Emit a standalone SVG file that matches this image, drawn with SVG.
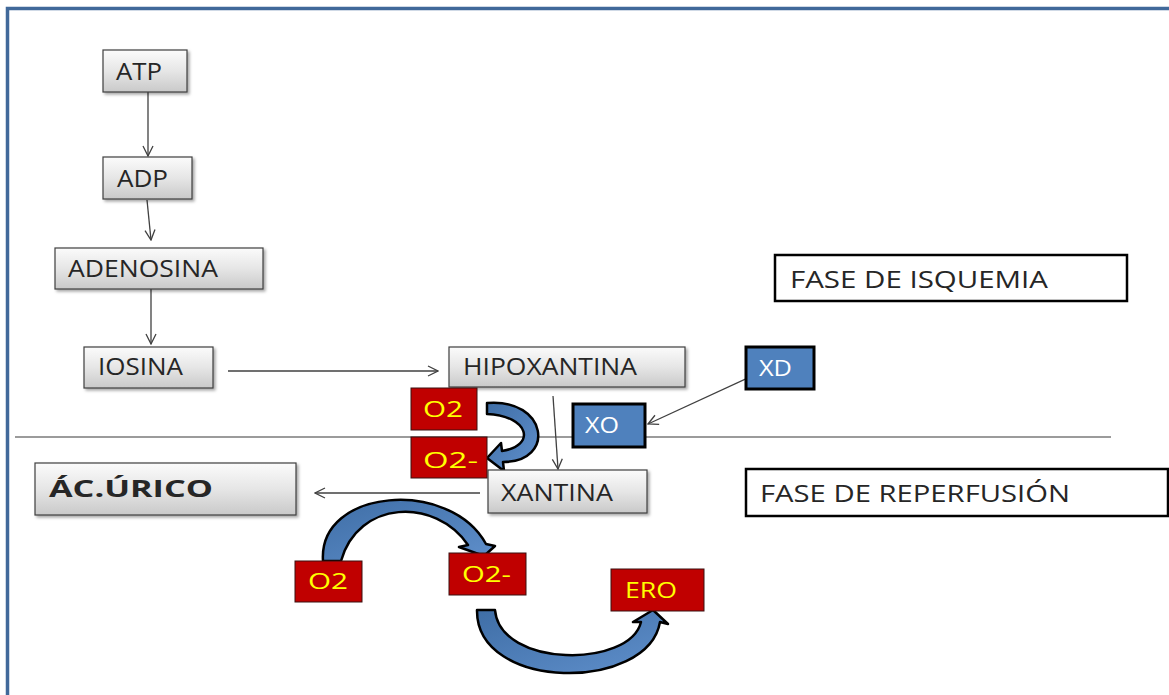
<svg xmlns="http://www.w3.org/2000/svg" width="1169" height="695" viewBox="0 0 1169 695">
<defs>
<linearGradient id="gray" x1="0" y1="0" x2="0" y2="1">
<stop offset="0" stop-color="#fbfbfb"/>
<stop offset="0.5" stop-color="#e6e6e6"/>
<stop offset="1" stop-color="#c9c9c9"/>
</linearGradient>
<linearGradient id="blueArc" x1="0" y1="0" x2="1" y2="1">
<stop offset="0" stop-color="#3f6ea6"/>
<stop offset="1" stop-color="#5f8fcb"/>
</linearGradient>
<filter id="sh" x="-10%" y="-20%" width="130%" height="150%">
<feDropShadow dx="2" dy="2" stdDeviation="1.5" flood-color="#000" flood-opacity="0.35"/>
</filter>
<marker id="arr" viewBox="0 0 12 12" refX="11" refY="6" markerWidth="12" markerHeight="12" markerUnits="userSpaceOnUse" orient="auto">
<path d="M1,1 L11,6 L1,11" fill="none" stroke="#404040" stroke-width="1.3"/>
</marker>
</defs>
<style>
.g{fill:url(#gray);stroke:#3f3f3f;stroke-width:1.2;filter:url(#sh)}
.r{fill:#c00000;stroke:#3a1010;stroke-width:1}
.b{fill:#4f81bd;stroke:#000;stroke-width:3}
.w{fill:#fff;stroke:#000;stroke-width:2.5}
.t{font-family:"Open Sans","Liberation Sans",sans-serif;font-size:23px;fill:#262626}
.y{font-family:"Open Sans","Liberation Sans",sans-serif;font-size:21px;fill:#ffff00}
.wt{font-family:"Open Sans","Liberation Sans",sans-serif;font-size:21px;fill:#ffffff}
.c{fill:none;stroke:#404040;stroke-width:1.3;marker-end:url(#arr)}
.ba{fill:url(#blueArc);stroke:#000;stroke-width:2.5;stroke-linejoin:round}
</style>
<rect x="0" y="0" width="1169" height="695" fill="#fff"/>
<path d="M7.5,695 L7.5,8.5 L1169,8.5" fill="none" stroke="#41699a" stroke-width="3.5"/>
<line x1="15" y1="437" x2="1111" y2="437" stroke="#7a7a7a" stroke-width="1.5"/>

<g id="connectors">
<line class="c" x1="148" y1="92" x2="148" y2="156"/>
<line class="c" x1="147" y1="200" x2="151" y2="240"/>
<line class="c" x1="151" y1="281" x2="151" y2="344"/>
<line class="c" x1="228" y1="371" x2="438" y2="371"/>
<line class="c" x1="553" y1="396" x2="558" y2="469"/>
<line class="c" x1="765" y1="370" x2="648" y2="424"/>
<line class="c" x1="480" y1="493" x2="315" y2="493"/>
<path id="arc-top" class="ba" d="M487,403 C548,398 556,462 503,462 L504,471 L487,458 L501,443 L502,451 C536,446 530,416 487,414 Z"/>
<path id="arc-left" class="ba" d="M323,561 C318,488 450,478 486,544 L495,546 L484,556 L459,547 L468,545 C435,497 358,500 341,561 Z"/>
<path id="arc-right" class="ba" d="M477,610 C476,692 648,692 660,622 L668,624 L653,610 L633,622 L641,622 C630,668 500,668 495,610 Z"/>
</g>

<g id="atp"><rect class="g" x="103" y="50" width="84" height="42"/><text class="t" x="116" y="80" textLength="46" lengthAdjust="spacingAndGlyphs">ATP</text></g>
<g id="adp"><rect class="g" x="103" y="157" width="89" height="42"/><text class="t" x="117" y="187" textLength="51" lengthAdjust="spacingAndGlyphs">ADP</text></g>
<g id="adenosina"><rect class="g" x="55" y="248" width="208" height="41"/><text class="t" x="68" y="277" textLength="150" lengthAdjust="spacingAndGlyphs">ADENOSINA</text></g>
<g id="iosina"><rect class="g" x="84" y="347" width="129" height="41"/><text class="t" x="98" y="375" textLength="85" lengthAdjust="spacingAndGlyphs">IOSINA</text></g>
<g id="hipoxantina"><rect class="g" x="449" y="347" width="236" height="40"/><text class="t" x="463" y="375" textLength="174" lengthAdjust="spacingAndGlyphs">HIPOXANTINA</text></g>
<g id="xantina"><rect class="g" x="488" y="470" width="159" height="43"/><text class="t" x="501" y="501" textLength="112" lengthAdjust="spacingAndGlyphs">XANTINA</text></g>
<g id="acurico"><rect class="g" x="35" y="463" width="261" height="52"/><text class="t" x="49" y="497" font-size="32" font-weight="bold" textLength="164" lengthAdjust="spacingAndGlyphs">ÁC.ÚRICO</text></g>

<g id="xd"><rect class="b" x="746" y="347" width="68" height="42"/><text class="wt" x="759" y="376" textLength="33" lengthAdjust="spacingAndGlyphs">XD</text></g>
<g id="xo"><rect class="b" x="573" y="404" width="72" height="43"/><text class="wt" x="585" y="433" textLength="34" lengthAdjust="spacingAndGlyphs">XO</text></g>

<g id="o2-top"><rect class="r" x="411" y="388" width="66" height="42"/><text class="y" x="423" y="417" textLength="40" lengthAdjust="spacingAndGlyphs">O2</text></g>
<g id="o2m-top"><rect class="r" x="411" y="437" width="76" height="41"/><text class="y" x="423" y="468" textLength="55" lengthAdjust="spacingAndGlyphs">O2-</text></g>
<g id="o2-bottom"><rect class="r" x="295" y="561" width="67" height="41"/><text class="y" x="308" y="589" textLength="40" lengthAdjust="spacingAndGlyphs">O2</text></g>
<g id="o2m-bottom"><rect class="r" x="449" y="553" width="77" height="42"/><text class="y" x="462" y="582" textLength="49" lengthAdjust="spacingAndGlyphs">O2-</text></g>
<g id="ero"><rect class="r" x="611" y="569" width="93" height="42"/><text class="y" x="625" y="598" font-size="20" textLength="52" lengthAdjust="spacingAndGlyphs">ERO</text></g>

<g id="fase-isquemia"><rect class="w" x="775" y="255" width="352" height="46"/><text class="t" x="790" y="288" textLength="258" lengthAdjust="spacingAndGlyphs">FASE DE ISQUEMIA</text></g>
<g id="fase-reperfusion"><rect class="w" x="746" y="469" width="422" height="47"/><text class="t" x="760" y="502" textLength="310" lengthAdjust="spacingAndGlyphs">FASE DE REPERFUSIÓN</text></g>
</svg>
